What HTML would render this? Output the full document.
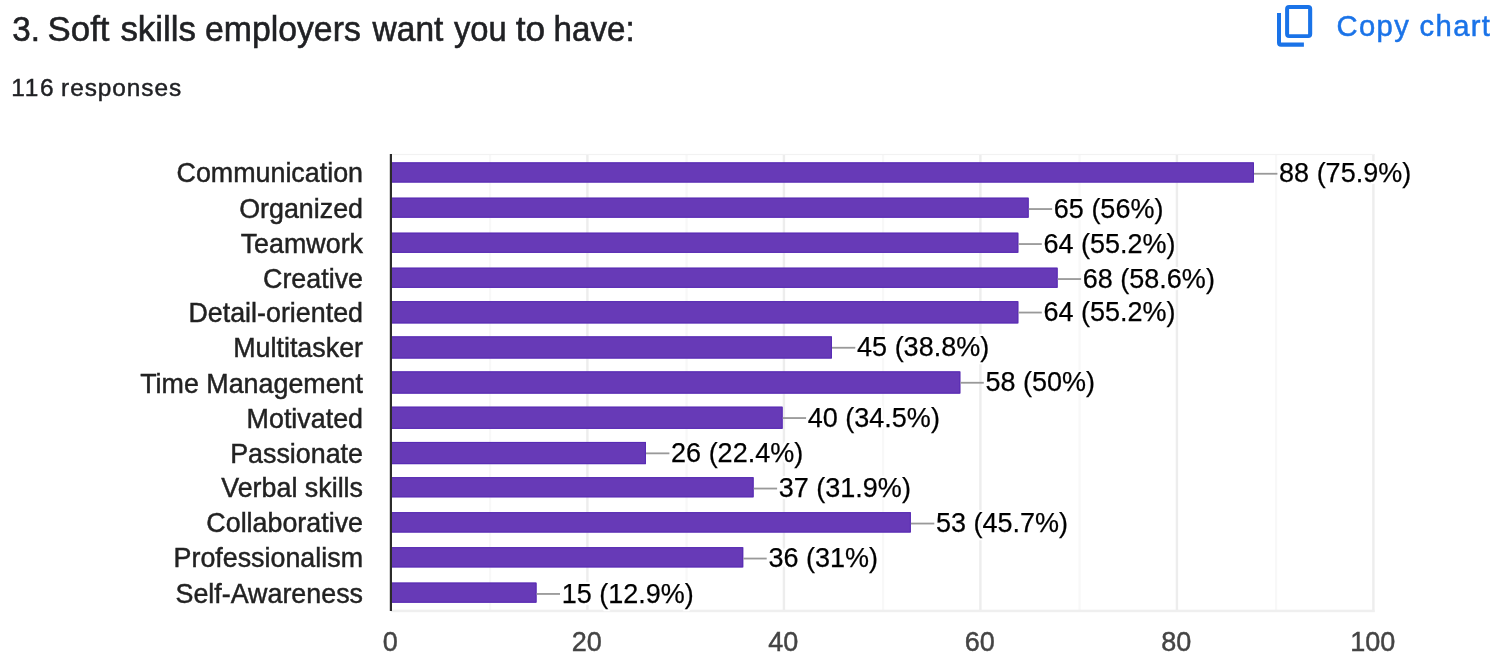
<!DOCTYPE html><html><head><meta charset="utf-8"><title>3. Soft skills employers want you to have:</title><style>
html,body{margin:0;padding:0;background:#fff;}
body{width:1500px;height:669px;overflow:hidden;position:relative;font-family:"Liberation Sans",sans-serif;}
svg{position:absolute;left:0;top:0;}
svg text{font-family:"Liberation Sans",sans-serif;}
</style></head><body>
<svg width="1500" height="669" viewBox="0 0 1500 669">
<text transform="translate(0,41.3) scale(1,1.055)" font-size="34" fill="#202124" stroke="#202124" stroke-width="0.55" xml:space="preserve"><tspan x="12.2" textLength="36.91" lengthAdjust="spacingAndGlyphs">3. </tspan><tspan x="47.6" textLength="71.57" lengthAdjust="spacingAndGlyphs">Soft </tspan><tspan x="120.4" textLength="85.41" lengthAdjust="spacingAndGlyphs">skills </tspan><tspan x="205.0" textLength="165.17" lengthAdjust="spacingAndGlyphs">employers </tspan><tspan x="372.6" textLength="80.12" lengthAdjust="spacingAndGlyphs">want </tspan><tspan x="454.0" textLength="61.83" lengthAdjust="spacingAndGlyphs">you </tspan><tspan x="515.8" textLength="39.22" lengthAdjust="spacingAndGlyphs">to </tspan><tspan x="553.6" textLength="81.06" lengthAdjust="spacingAndGlyphs">have:</tspan></text>
<text transform="translate(0,96.0) scale(1,1.0)" font-size="24.4" fill="#202124" stroke="#202124" stroke-width="0.45"><tspan x="11.2" letter-spacing="1.8">116 </tspan><tspan x="61.1" letter-spacing="0.95">responses</tspan></text>
<text transform="translate(1336.5,35.7) scale(1,1.0)" font-size="29.2" letter-spacing="1.37" fill="#1a73e8" stroke="#1a73e8" stroke-width="0.5">Copy chart</text>
<defs><filter id="halo" x="-4%" y="-25%" width="108%" height="150%" color-interpolation-filters="sRGB"><feMorphology in="SourceAlpha" operator="dilate" radius="2.4" result="d"/><feFlood flood-color="#fff"/><feComposite in2="d" operator="in"/><feMerge><feMergeNode/><feMergeNode in="SourceGraphic"/></feMerge></filter></defs>
<path fill="#1a73e8" fill-rule="evenodd" d="M1277 13.1V42.7a4 4 0 0 0 4 4H1303.9V42.5H1281V13.1ZM1289.1 5h19.1a4 4 0 0 1 4 4v25.1a4 4 0 0 1-4 4h-19.1a4 4 0 0 1-4-4V9a4 4 0 0 1 4-4ZM1289.1 8.9V34.3h19V8.9Z"/>
<rect x="488.95" y="154.0" width="2.2" height="458.0" fill="#f8f8f8"/>
<rect x="685.45" y="154.0" width="2.2" height="458.0" fill="#f8f8f8"/>
<rect x="881.95" y="154.0" width="2.2" height="458.0" fill="#f8f8f8"/>
<rect x="1078.45" y="154.0" width="2.2" height="458.0" fill="#f8f8f8"/>
<rect x="1274.95" y="154.0" width="2.2" height="458.0" fill="#f8f8f8"/>
<rect x="586.20" y="154.0" width="2.4" height="458.0" fill="#ededed"/>
<rect x="782.70" y="154.0" width="2.4" height="458.0" fill="#ededed"/>
<rect x="979.20" y="154.0" width="2.4" height="458.0" fill="#ededed"/>
<rect x="1175.70" y="154.0" width="2.4" height="458.0" fill="#ededed"/>
<rect x="1372.20" y="154.0" width="2.4" height="458.0" fill="#ededed"/>
<rect x="390.9" y="153.9" width="983.70" height="1.2" fill="#f2f2f2"/>
<rect x="390.9" y="609.7" width="983.70" height="2.5" fill="#efefef"/>
<rect x="391.5" y="162.30" width="862.50" height="20.30" fill="#673ab7"/>
<path d="M391.5 162.90H1253.40V182.00H391.5" fill="none" stroke="#5629b3" stroke-width="0.9"/>
<rect x="1254.00" y="172.85" width="23.4" height="1.8" fill="#999"/>
<text x="1279.10" y="182.30" font-size="27.0" fill="#000" stroke="#000" stroke-width="0.25" filter="url(#halo)">88 (75.9%)</text>
<text x="363.0" y="182.45" font-size="26.85" fill="#222" stroke="#222" stroke-width="0.45" text-anchor="end">Communication</text>
<rect x="391.5" y="197.60" width="637.25" height="20.20" fill="#673ab7"/>
<path d="M391.5 198.20H1028.15V217.20H391.5" fill="none" stroke="#5629b3" stroke-width="0.9"/>
<rect x="1028.75" y="208.15" width="23.4" height="1.8" fill="#999"/>
<text x="1053.85" y="217.60" font-size="27.0" fill="#000" stroke="#000" stroke-width="0.25" filter="url(#halo)">65 (56%)</text>
<text x="363.0" y="217.70" font-size="26.85" fill="#222" stroke="#222" stroke-width="0.45" text-anchor="end">Organized</text>
<rect x="391.5" y="232.60" width="626.90" height="20.30" fill="#673ab7"/>
<path d="M391.5 233.20H1017.80V252.30H391.5" fill="none" stroke="#5629b3" stroke-width="0.9"/>
<rect x="1018.40" y="243.15" width="23.4" height="1.8" fill="#999"/>
<text x="1043.50" y="252.60" font-size="27.0" fill="#000" stroke="#000" stroke-width="0.25" filter="url(#halo)">64 (55.2%)</text>
<text x="363.0" y="252.75" font-size="26.85" fill="#222" stroke="#222" stroke-width="0.45" text-anchor="end">Teamwork</text>
<rect x="391.5" y="267.60" width="666.20" height="20.30" fill="#673ab7"/>
<path d="M391.5 268.20H1057.10V287.30H391.5" fill="none" stroke="#5629b3" stroke-width="0.9"/>
<rect x="1057.70" y="278.15" width="23.4" height="1.8" fill="#999"/>
<text x="1082.80" y="287.60" font-size="27.0" fill="#000" stroke="#000" stroke-width="0.25" filter="url(#halo)">68 (58.6%)</text>
<text x="363.0" y="287.75" font-size="26.85" fill="#222" stroke="#222" stroke-width="0.45" text-anchor="end">Creative</text>
<rect x="391.5" y="301.10" width="626.90" height="22.40" fill="#673ab7"/>
<path d="M391.5 301.70H1017.80V322.90H391.5" fill="none" stroke="#5629b3" stroke-width="0.9"/>
<rect x="1018.40" y="311.65" width="23.4" height="1.8" fill="#999"/>
<text x="1043.50" y="321.10" font-size="27.0" fill="#000" stroke="#000" stroke-width="0.25" filter="url(#halo)">64 (55.2%)</text>
<text x="363.0" y="322.30" font-size="26.85" fill="#222" stroke="#222" stroke-width="0.45" text-anchor="end">Detail-oriented</text>
<rect x="391.5" y="336.30" width="440.50" height="22.30" fill="#673ab7"/>
<path d="M391.5 336.90H831.40V358.00H391.5" fill="none" stroke="#5629b3" stroke-width="0.9"/>
<rect x="832.00" y="346.85" width="23.4" height="1.8" fill="#999"/>
<text x="857.10" y="356.30" font-size="27.0" fill="#000" stroke="#000" stroke-width="0.25" filter="url(#halo)">45 (38.8%)</text>
<text x="363.0" y="357.45" font-size="26.85" fill="#222" stroke="#222" stroke-width="0.45" text-anchor="end">Multitasker</text>
<rect x="391.5" y="371.30" width="568.90" height="22.40" fill="#673ab7"/>
<path d="M391.5 371.90H959.80V393.10H391.5" fill="none" stroke="#5629b3" stroke-width="0.9"/>
<rect x="960.40" y="381.85" width="23.4" height="1.8" fill="#999"/>
<text x="985.50" y="391.30" font-size="27.0" fill="#000" stroke="#000" stroke-width="0.25" filter="url(#halo)">58 (50%)</text>
<text x="363.0" y="392.50" font-size="26.85" fill="#222" stroke="#222" stroke-width="0.45" text-anchor="end">Time Management</text>
<rect x="391.5" y="406.60" width="391.20" height="22.30" fill="#673ab7"/>
<path d="M391.5 407.20H782.10V428.30H391.5" fill="none" stroke="#5629b3" stroke-width="0.9"/>
<rect x="782.70" y="417.15" width="23.4" height="1.8" fill="#999"/>
<text x="807.80" y="426.60" font-size="27.0" fill="#000" stroke="#000" stroke-width="0.25" filter="url(#halo)">40 (34.5%)</text>
<text x="363.0" y="427.75" font-size="26.85" fill="#222" stroke="#222" stroke-width="0.45" text-anchor="end">Motivated</text>
<rect x="391.5" y="441.90" width="254.50" height="22.30" fill="#673ab7"/>
<path d="M391.5 442.50H645.40V463.60H391.5" fill="none" stroke="#5629b3" stroke-width="0.9"/>
<rect x="646.00" y="452.45" width="23.4" height="1.8" fill="#999"/>
<text x="671.10" y="461.90" font-size="27.0" fill="#000" stroke="#000" stroke-width="0.25" filter="url(#halo)">26 (22.4%)</text>
<text x="363.0" y="463.05" font-size="26.85" fill="#222" stroke="#222" stroke-width="0.45" text-anchor="end">Passionate</text>
<rect x="391.5" y="477.10" width="362.20" height="20.30" fill="#673ab7"/>
<path d="M391.5 477.70H753.10V496.80H391.5" fill="none" stroke="#5629b3" stroke-width="0.9"/>
<rect x="753.70" y="487.65" width="23.4" height="1.8" fill="#999"/>
<text x="778.80" y="497.10" font-size="27.0" fill="#000" stroke="#000" stroke-width="0.25" filter="url(#halo)">37 (31.9%)</text>
<text x="363.0" y="497.25" font-size="26.85" fill="#222" stroke="#222" stroke-width="0.45" text-anchor="end">Verbal skills</text>
<rect x="391.5" y="512.10" width="519.40" height="20.50" fill="#673ab7"/>
<path d="M391.5 512.70H910.30V532.00H391.5" fill="none" stroke="#5629b3" stroke-width="0.9"/>
<rect x="910.90" y="522.65" width="23.4" height="1.8" fill="#999"/>
<text x="936.00" y="532.10" font-size="27.0" fill="#000" stroke="#000" stroke-width="0.25" filter="url(#halo)">53 (45.7%)</text>
<text x="363.0" y="532.35" font-size="26.85" fill="#222" stroke="#222" stroke-width="0.45" text-anchor="end">Collaborative</text>
<rect x="391.5" y="547.10" width="351.80" height="20.40" fill="#673ab7"/>
<path d="M391.5 547.70H742.70V566.90H391.5" fill="none" stroke="#5629b3" stroke-width="0.9"/>
<rect x="743.30" y="557.65" width="23.4" height="1.8" fill="#999"/>
<text x="768.40" y="567.10" font-size="27.0" fill="#000" stroke="#000" stroke-width="0.25" filter="url(#halo)">36 (31%)</text>
<text x="363.0" y="567.30" font-size="26.85" fill="#222" stroke="#222" stroke-width="0.45" text-anchor="end">Professionalism</text>
<rect x="391.5" y="582.50" width="145.10" height="20.30" fill="#673ab7"/>
<path d="M391.5 583.10H536.00V602.20H391.5" fill="none" stroke="#5629b3" stroke-width="0.9"/>
<rect x="536.60" y="593.05" width="23.4" height="1.8" fill="#999"/>
<text x="561.70" y="602.50" font-size="27.0" fill="#000" stroke="#000" stroke-width="0.25" filter="url(#halo)">15 (12.9%)</text>
<text x="363.0" y="602.65" font-size="26.85" fill="#222" stroke="#222" stroke-width="0.45" text-anchor="end">Self-Awareness</text>
<rect x="389.80" y="154.0" width="2.2" height="457.0" fill="#2b2b2b"/>
<text x="390.20" y="650.5" font-size="27.0" fill="#444" stroke="#444" stroke-width="0.45" text-anchor="middle">0</text>
<text x="586.70" y="650.5" font-size="27.0" fill="#444" stroke="#444" stroke-width="0.45" text-anchor="middle">20</text>
<text x="783.20" y="650.5" font-size="27.0" fill="#444" stroke="#444" stroke-width="0.45" text-anchor="middle">40</text>
<text x="979.70" y="650.5" font-size="27.0" fill="#444" stroke="#444" stroke-width="0.45" text-anchor="middle">60</text>
<text x="1176.20" y="650.5" font-size="27.0" fill="#444" stroke="#444" stroke-width="0.45" text-anchor="middle">80</text>
<text x="1372.70" y="650.5" font-size="27.0" fill="#444" stroke="#444" stroke-width="0.45" text-anchor="middle">100</text>
</svg></body></html>
